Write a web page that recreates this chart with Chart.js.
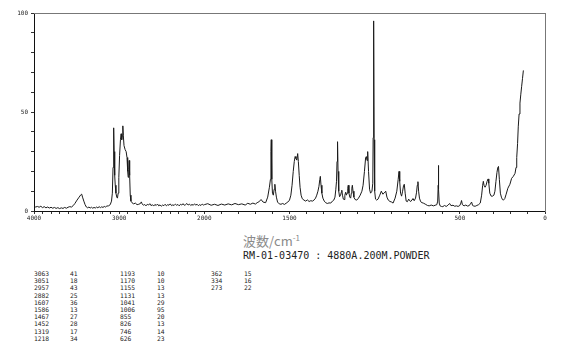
<!DOCTYPE html>
<html>
<head>
<meta charset="utf-8">
<script src="https://cdn.jsdelivr.net/npm/chart.js@4/dist/chart.umd.min.js"></script>
<style>
body { margin: 0; background: #fff; width: 570px; height: 346px; position: relative; overflow: hidden; font-family: "DejaVu Sans Mono", monospace; }
#plot { position: absolute; left: 0; top: 0; }
#xtitle { position: absolute; left: 243px; top: 231px; font: 13px "Noto Sans CJK JP", sans-serif; color: #8a8a8a; }
#xtitle sup { font-size: 8px; }
#sample { position: absolute; left: 243px; top: 250px; font-size: 10px; color: #222; white-space: pre; }
.cell { position: absolute; font-size: 6.3px; line-height: 7px; color: #222; white-space: pre; }
</style>
</head>
<body>
<canvas id="plot" width="570" height="230"></canvas>
<div id="xtitle">波数/cm<sup>-1</sup></div>
<div id="sample">RM-01-03470 : 4880A.200M.POWDER</div>
<div id="table"></div>
<script>
// spectre Raman — axe x en deux échelles (4000-2000 comprimé, 2000-0 normal)
const hiWave = [
  4000, 3980, 3960, 3940, 3920, 3900, 3880, 3860, 3840, 3820,
  3800, 3780, 3760, 3740, 3720, 3700, 3680, 3660, 3640, 3620,
  3600, 3580, 3560, 3540, 3520, 3495, 3470, 3450, 3440, 3430,
  3415, 3400, 3385, 3370, 3355, 3340, 3325, 3310, 3295, 3280,
  3265, 3250, 3235, 3220, 3205, 3190, 3175, 3160, 3145, 3125,
  3105, 3090, 3080, 3072, 3066, 3063, 3059, 3054, 3051, 3046,
  3038, 3028, 3020, 3012, 3004, 2995, 2985, 2977, 2970, 2963,
  2957, 2951, 2943, 2930, 2918, 2908, 2900, 2894, 2888, 2882,
  2877, 2870, 2862, 2850, 2830, 2810, 2790, 2770, 2750, 2740,
  2730, 2715, 2700, 2685, 2670, 2655, 2640, 2625, 2610, 2595,
  2580, 2565, 2550, 2535, 2520, 2505, 2490, 2475, 2460, 2445,
  2430, 2415, 2400, 2385, 2370, 2355, 2340, 2325, 2310, 2295,
  2280, 2265, 2250, 2235, 2220, 2205, 2190, 2175, 2160, 2145,
  2130, 2115, 2100, 2085, 2070, 2055, 2040, 2025, 2010];
const hiInt = [
  2.4, 2.0, 2.3, 1.9, 2.4, 1.7, 2.2, 1.6, 2.0, 1.5,
  1.9, 1.4, 1.8, 1.3, 1.7, 1.2, 1.6, 1.3, 1.8, 1.4,
  1.9, 2.2, 2.0, 2.7, 3.8, 5.5, 7.0, 8.2, 8.5, 7.0,
  5.0, 3.2, 2.0, 1.6, 2.0, 1.5, 1.9, 1.4, 1.8, 1.5,
  2.0, 1.6, 2.2, 1.7, 2.1, 1.8, 2.3, 2.0, 2.5, 2.6,
  3.2, 5.0, 9.0, 22, 38, 42, 30, 20, 18, 13,
  9, 7, 6.5, 9, 17, 28, 36, 39, 36, 38,
  43, 38, 33, 31, 30, 27, 20, 17, 21, 25.5,
  18, 8, 5, 4.2, 3.6, 4.0, 3.2, 3.4, 3.8, 4.6,
  3.6, 2.9, 3.3, 2.6, 3.4, 3.0, 3.7, 2.7, 3.2, 2.5,
  3.3, 2.8, 3.5, 2.6, 3.1, 2.4, 3.0, 2.7, 3.4, 2.6,
  3.2, 2.9, 3.6, 2.7, 3.1, 2.8, 3.5, 2.9, 3.3, 2.6,
  3.4, 3.0, 3.7, 2.9, 3.2, 3.8, 3.0, 3.5, 2.8, 3.3,
  2.9, 3.6, 3.0, 3.4, 2.7, 3.2, 2.8, 3.5, 3.0];

const midWave = [
  2000, 1980, 1960, 1940, 1920, 1900, 1880, 1860, 1840, 1820,
  1800, 1780, 1760, 1745, 1730, 1715, 1700, 1690, 1680,
  1667, 1655, 1640, 1628, 1618, 1612, 1609, 1607, 1604, 1600,
  1595, 1590, 1586, 1582, 1577, 1570, 1560, 1550, 1540, 1530,
  1520, 1510, 1500, 1492, 1485, 1478, 1472, 1467, 1462, 1457,
  1452, 1448, 1443, 1438, 1432, 1425, 1415, 1405, 1395, 1385,
  1375, 1365, 1355, 1347, 1340, 1333, 1327, 1322, 1319, 1315,
  1310, 1304, 1296, 1288, 1278, 1268, 1258, 1248, 1240, 1233,
  1228, 1224, 1221, 1218, 1215, 1211, 1206, 1200, 1196, 1193,
  1189, 1184, 1180, 1175, 1170, 1166, 1162, 1158, 1155, 1151,
  1146, 1141, 1137, 1134, 1131, 1127, 1122, 1115, 1105, 1095,
  1085, 1075, 1068, 1060, 1053, 1049, 1045, 1041, 1036, 1030,
  1024, 1016, 1011, 1009, 1006, 1003, 1000, 995, 988, 980,
  970, 961, 952, 945, 935, 928, 920, 910];
const midInt = [
  3.2, 3.7, 2.9, 3.4, 2.8, 3.5, 3.0, 3.6, 3.1, 3.8,
  3.2, 3.6, 3.0, 3.9, 3.4, 4.0, 3.5, 4.2, 4.6,
  5.8, 4.5, 4.2, 7, 12, 16, 30, 36, 16, 9,
  8, 11, 13.5, 10, 7, 4.5, 3.6, 3.4, 3.8, 3.3,
  3.9, 4.5, 5.5, 8, 13, 20, 25, 27.5, 26.5, 25.7,
  29, 25, 18, 12, 8, 6.2, 5.5, 5.0, 5.6, 4.8,
  5.2, 5.0, 5.6, 6.5, 8, 10, 12.5, 16, 17.5, 13,
  9, 6.5, 5, 4.2, 3.8, 4.1, 4.0, 5.0, 5.5, 7,
  11, 15, 25, 35, 20, 10, 7.2, 8, 9.5, 10.5,
  8, 6, 5.8, 8, 9.5, 8, 9, 11.5, 13, 9,
  7, 6.5, 9, 11.5, 13, 10, 7, 5.8, 5.5, 6.5,
  8, 10, 13, 20, 27, 27.5, 25.5, 30, 20, 11,
  9, 10, 14, 37, 96, 36, 10, 6, 5.5, 6,
  8, 10, 8.5, 9, 10, 7, 5.5, 4.8];

const lowWave = [
  900, 892, 880, 870, 862, 857, 853, 848, 842, 836,
  830, 826, 821, 815, 808, 800, 795, 788, 780, 775,
  768, 760, 754, 750, 746, 742, 737, 730, 722, 712,
  700, 690, 680, 668, 655, 645, 635, 630, 627, 626,
  624, 621, 616, 608, 600, 590, 580, 570, 560, 552,
  540, 530, 520, 510, 500, 494, 490, 485, 475, 465,
  455, 445, 438, 431, 425, 418, 410, 400, 390, 380,
  372, 366, 362, 358, 352, 346, 340, 334, 330, 324,
  316, 308, 300, 294, 288, 282, 277, 273, 268, 262,
  256, 250, 244, 236, 228, 218, 206, 196, 186, 176,
  170, 166, 161, 157, 152, 147, 142, 137, 132, 127];
const lowInt = [
  4.5, 4.0, 6.5, 10, 16, 20, 15, 9, 7.5, 10,
  13, 13.5, 9, 5, 4.7, 6, 5.2, 4.8, 5.8, 6.3,
  5.2, 6.5, 9.5, 13, 14.8, 10, 6.5, 4.7, 4.2, 3.9,
  3.3, 2.8, 2.6, 3.0, 2.6, 2.9, 3.2, 5, 13, 23,
  11, 4, 2.6, 2.3, 2.2, 2.8, 2.3, 2.9, 3.8, 2.7,
  2.9, 2.4, 2.6, 2.3, 2.8, 4.0, 5.3, 3.2, 2.6, 3.0,
  2.5, 2.7, 3.6, 4.5, 2.8, 2.5, 2.4, 2.8, 3.2, 4,
  8, 13, 15, 13, 12, 13, 15, 16.2, 14, 9,
  7.5, 7.5, 8, 10, 15, 19.5, 22, 22.5, 16, 9,
  7, 5.8, 5.5, 6.3, 8.5, 11.5, 13.5, 16.5, 17.5, 19,
  22, 27, 34, 42.5, 49, 54.5, 59, 63, 67, 71];

// liste des pics (cm-1, intensité)
const peakWaves = [3063, 3051, 2957, 2882, 1607, 1586, 1467, 1452, 1319, 1218,
                   1193, 1170, 1155, 1131, 1041, 1006, 855, 826, 746, 626,
                   362, 334, 273];
const peakVals = [41, 18, 43, 25, 36, 13, 27, 28, 17, 34,
                  10, 10, 13, 13, 29, 95, 20, 13, 14, 23,
                  15, 16, 22];

const xTickLabels = [4000, 3000, 2000, 1500, 500, 0];
const yTickLabels = [0, 50, 100];

// position sur l'axe : 4000-2000 occupe 1000 unités, 2000-0 en occupe 2000
const toPos = (w) => w >= 2000 ? (4000 - w) / 2 : 1000 + (2000 - w);
const fromPos = (p) => p <= 1000 ? 4000 - p * 2 : 2000 - (p - 1000);

const waves = hiWave.concat(midWave, lowWave);
const ints = hiInt.concat(midInt, lowInt);
const pts = waves.map((w, i) => ({ x: toPos(w), y: ints[i] }));

const xTicks = [];
for (let w = 4000; w >= 0; w -= 100) xTicks.push({ value: toPos(w) });

const fontTick = { family: 'DejaVu Sans Mono', size: 6 };
const frame = (pos, axis) => ({
  type: 'linear', position: pos, axis, min: 0, max: axis === 'x' ? 3000 : 100,
  ticks: { display: false }, grid: { display: false, drawTicks: false },
  border: { display: true, color: '#777', width: 1 },
  afterFit: (s) => { if (axis === 'x') s.height = 0; else s.width = 0; },
});

new Chart(document.getElementById('plot'), {
  type: 'line',
  data: {
    datasets: [{
      data: pts, borderColor: '#1a1a1a', borderWidth: 1, pointRadius: 0, tension: 0, fill: false,
    }],
  },
  options: {
    responsive: false, animation: false, devicePixelRatio: 1,
    layout: { padding: { left: 0, right: 25, top: 13, bottom: 0 } },
    plugins: { legend: { display: false }, tooltip: { enabled: false } },
    scales: {
      x: {
        type: 'linear', min: 0, max: 3000,
        afterBuildTicks: (s) => { s.ticks = xTicks.map(t => ({ value: t.value })); },
        afterFit: (s) => { s.height = 19; },
        ticks: {
          autoSkip: false, maxRotation: 0, padding: 1, color: '#222', font: fontTick,
          callback: (v) => { const w = Math.round(fromPos(v)); return xTickLabels.includes(w) ? String(w) : ''; },
        },
        grid: { drawOnChartArea: false, tickLength: 3, color: '#333' },
        border: { color: '#111', width: 1 },
      },
      y: {
        min: 0, max: 100,
        afterFit: (s) => { s.width = 34; },
        ticks: {
          stepSize: 10, padding: 3, color: '#222', font: fontTick,
          callback: (v) => yTickLabels.includes(v) ? String(v) : '',
        },
        grid: { drawOnChartArea: false, tickLength: 3, color: '#333' },
        border: { color: '#111', width: 1 },
      },
      x2: frame('top', 'x'),
      y2: frame('right', 'y'),
    },
  },
});

// tableau des pics : 3 colonnes de 10 lignes
const colWave = [34, 120, 211];
const colVal = [70, 157, 244];
const tbl = document.getElementById('table');
peakWaves.forEach((w, i) => {
  const c = Math.floor(i / 10), r = i % 10;
  const top = 270 + r * 7.2;
  tbl.insertAdjacentHTML('beforeend',
    `<div class="cell" style="left:${colWave[c]}px;top:${top}px">${w}</div>` +
    `<div class="cell" style="left:${colVal[c]}px;top:${top}px">${peakVals[i]}</div>`);
});
</script>
</body>
</html>
